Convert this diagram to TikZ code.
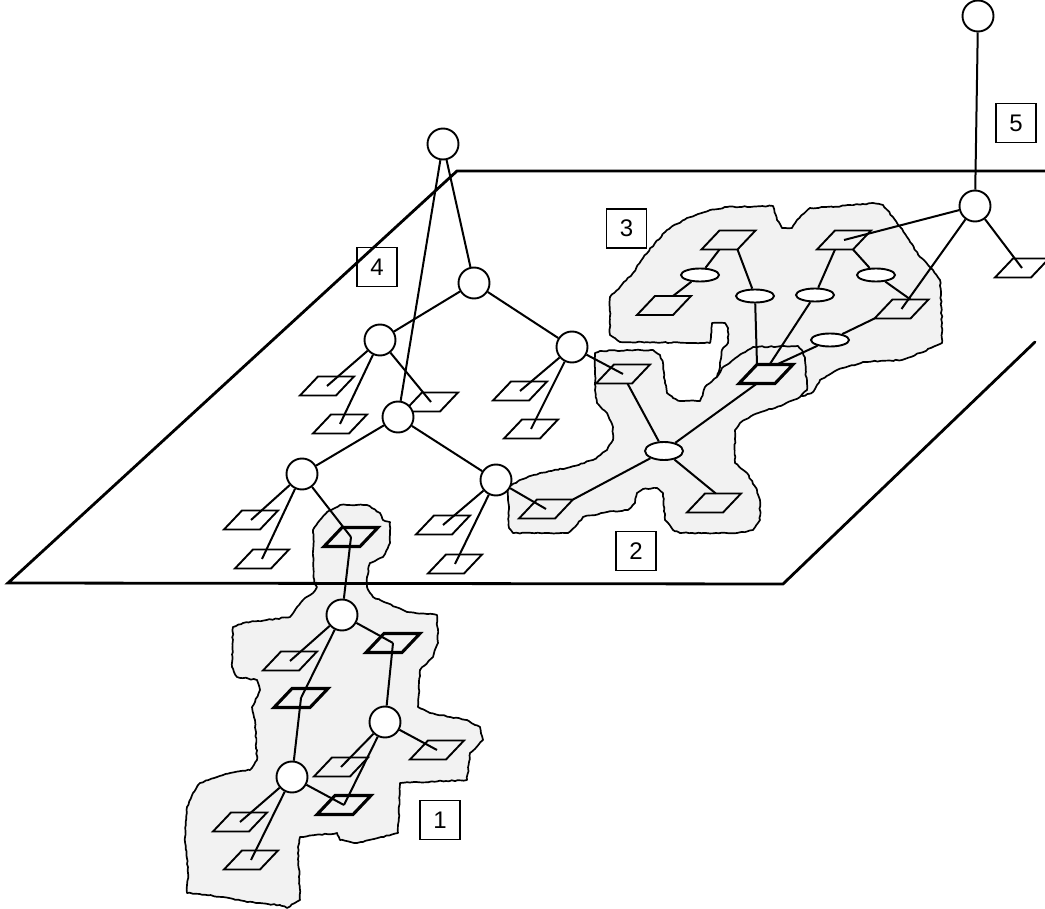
\documentclass[tikz,border=0pt]{standalone}
\usepackage{fontspec}
\setmainfont{Liberation Sans}
\usetikzlibrary{calc,shapes.geometric,decorations.pathmorphing}
\definecolor{blobgray}{HTML}{F2F2F2}
\newcommand\pgram[4][pgline]{%
  \coordinate (#2) at (#3,#4);
  \coordinate (#2-bl) at (#3-27,#4+9.5);
  \coordinate (#2-br) at (#3+9,#4+9.5);
  \coordinate (#2-tr) at (#3+27,#4-9.5);
  \coordinate (#2-tl) at (#3-9,#4-9.5);
  \coordinate (#2-b) at (#3-9,#4+9.5);
  \coordinate (#2-t) at (#3+9,#4-9.5);
  \draw[#1] (#2-bl) -- (#2-br) -- (#2-tr) -- (#2-tl) -- cycle;
}
\tikzset{
  plane/.style={line width=2.8pt, line cap=round},
  blob/.style={fill=blobgray, draw=black, line width=1.7pt, line join=round,
    decorate, decoration={random steps, segment length=3pt, amplitude=0.6pt}},
  pgline/.style={line width=1.9pt, line join=miter},
  pgthick/.style={line width=3.1pt, line join=miter},
  vtx/.style={circle, draw, fill=white, line width=1.9pt, minimum size=31pt, inner sep=0pt},
  oval/.style={ellipse, draw, fill=white, line width=1.9pt, minimum width=38pt, minimum height=13pt, inner sep=0pt},
  ovalbig/.style={oval, minimum height=18pt},
  link/.style={line width=2pt},
  lbl/.style={draw, line width=1.2pt, minimum width=40pt, minimum height=39pt, inner sep=0pt, font=\fontsize{24}{24}\selectfont}
}
\begin{document}
\begin{tikzpicture}[x=1pt,y=-1pt]
\pgfmathsetseed{7}
\useasboundingbox (0,0) rectangle (1045,909);
\clip (0,0) rectangle (1045,909);
% ---------- region 3 blob
\path[blob] (620,342) -- (610,335) -- (610,297) -- (620,287) -- (633,273) -- (643,258) -- (655,243) -- (667,230) -- (687,218) -- (710,210) -- (727,207) -- (773,206) -- (777,220) -- (782,228) -- (792,228) -- (797,220) -- (810,208) -- (833,207) -- (873,203) -- (883,205) -- (893,217) -- (907,237) -- (920,257) -- (933,270) -- (940,280) -- (942,323) -- (942,343) -- (920,353) -- (902,360) -- (863,362) -- (837,370) -- (820,380) -- (813,392) -- (803,396) -- (790,395) -- (765,402) -- (735,408) -- (722,386) -- (717,377) -- (720,367) -- (722,350) -- (728,343) -- (728,328) -- (725,323) -- (712,323) -- (710,343) -- cycle;
% ---------- region 2 blob
\path[blob] (595,353) -- (600,351) -- (653,350) -- (660,355) -- (663,363) -- (665,383) -- (667,393) -- (673,398) -- (680,401) -- (700,401) -- (703,393) -- (705,387) -- (717,377) -- (722,368) -- (733,360) -- (743,353) -- (753,347) -- (798,346) -- (803,352) -- (805,360) -- (807,390) -- (800,397) -- (775,408) -- (767,410) -- (753,415) -- (740,423) -- (735,430) -- (735,463) -- (747,473) -- (757,490) -- (760,500) -- (760,520) -- (753,530) -- (737,533) -- (680,533) -- (673,530) -- (665,520) -- (663,493) -- (657,488) -- (643,489) -- (637,493) -- (635,503) -- (628,510) -- (607,512) -- (583,517) -- (575,527) -- (568,533) -- (513,533) -- (509,528) -- (508,487) -- (520,480) -- (540,473) -- (567,468) -- (593,460) -- (607,450) -- (613,440) -- (613,427) -- (607,413) -- (597,403) -- (595,390) -- cycle;
% ---------- region 1 blob
\path[blob] (314,583) -- (313,530) -- (320,520) -- (327,512) -- (340,505) -- (367,505) -- (380,513) -- (383,520) -- (390,522) -- (390,543) -- (383,557) -- (370,563) -- (367,577) -- (367,587) -- (373,597) -- (380,600) -- (407,612) -- (437,615) -- (438,643) -- (433,657) -- (420,670) -- (418,707) -- (430,713) -- (467,720) -- (480,727) -- (483,740) -- (470,753) -- (467,780) -- (400,783) -- (398,833) -- (357,843) -- (340,840) -- (337,833) -- (300,837) -- (298,847) -- (300,900) -- (287,908) -- (280,905) -- (247,902) -- (223,897) -- (187,893) -- (188,873) -- (185,837) -- (187,807) -- (193,793) -- (200,783) -- (230,773) -- (250,770) -- (257,760) -- (255,720) -- (252,707) -- (260,690) -- (257,680) -- (237,677) -- (232,667) -- (233,627) -- (243,623) -- (290,617) -- (303,600) -- (313,593) -- (317,587) -- cycle;
% ---------- plane
\coordinate (pTL) at (457,171);
\coordinate (pTR) at (1046,171);
\coordinate (pBL) at (8,583);
\coordinate (pBR) at (783,584);
\coordinate (pRE) at (1035,342);
\draw[plane] (pTR) -- (pTL) -- (pBL) -- (pBR) -- (pRE);
% ---------- parallelograms
\pgram{P1}{327}{386}
\pgram{P2}{340}{424}
\pgram{P3}{431}{402}
\pgram{D1}{520}{391}
\pgram{D2}{531}{429}
\pgram{PD3}{623}{374}
\pgram{F1}{251}{520}
\pgram{F2}{262}{559}
\pgram[pgthick]{F3}{351}{537}
\pgram{G1}{443}{525}
\pgram{G2}{455}{564}
\pgram{PG3}{546}{509}
\pgram{X4}{714}{503}
\pgram{R1}{728.5}{240}
\pgram{R2}{844}{240}
\pgram{R3}{664}{305.5}
\pgram{R4}{901.5}{309}
\pgram[pgthick]{R5}{766}{374}
\pgram{R6}{1022}{268}
\pgram{Q1}{290}{661}
\pgram[pgthick]{Q2}{393}{643}
\pgram[pgthick]{Q3}{301}{698}
\pgram{Q4}{437}{750}
\pgram{Q5}{341}{767}
\pgram[pgthick]{Q6}{344}{805}
\pgram{Q7}{240}{822}
\pgram{Q8}{251}{860}
% ---------- circles
\node[vtx] (A) at (443,144) {};
\node[vtx] (B) at (474,283) {};
\node[vtx] (C) at (380,340) {};
\node[vtx] (D) at (572,347) {};
\node[vtx] (E) at (398,417) {};
\node[vtx] (F) at (302,474) {};
\node[vtx] (G) at (496,480) {};
\node[vtx] (H) at (975,206) {};
\node[vtx] (I) at (978,16) {};
\node[vtx] (J) at (342,615) {};
\node[vtx] (K) at (385,722) {};
\node[vtx] (L) at (292,777) {};
% ---------- ellipses
\node[ovalbig] (X) at (664,451) {};
\node[oval] (E1) at (700,275) {};
\node[oval] (E2) at (755,296) {};
\node[oval] (E3) at (815,295) {};
\node[oval] (E4) at (876,275) {};
\node[oval] (E5) at (830,340) {};
% ---------- links: tree 4
\draw[link] (A) -- (E);
\draw[link] (A) -- (B);
\draw[link] (B) -- (C);
\draw[link] (B) -- (D);
\draw[link] (C) -- (P1);
\draw[link] (C) -- (P2);
\draw[link] (C) -- (P3);
\draw[link] (D) -- (D1);
\draw[link] (D) -- (D2);
\draw[link] (D) -- (PD3);
\draw[link] (E) -- (F);
\draw[link] (E) -- (G);
\draw[link] (F) -- (F1);
\draw[link] (F) -- (F2);
\draw[link] (F) -- (F3);
\draw[link] (G) -- (G1);
\draw[link] (G) -- (G2);
\draw[link] (G) -- (PG3);
% ---------- links: region 1
\draw[link] (F3) -- (J);
\draw[link] (J) -- (Q1);
\draw[link] (J) -- (Q2);
\draw[link] (J) -- (Q3);
\draw[link] (Q2) -- (K);
\draw[link] (Q3) -- (L);
\draw[link] (K) -- (Q4);
\draw[link] (K) -- (Q5);
\draw[link] (K) -- (Q6);
\draw[link] (L) -- (Q7);
\draw[link] (L) -- (Q8);
\draw[link] (L) -- (Q6);
% ---------- links: region 2
\draw[link] (X) -- ($(PD3-b)!.75!(PD3-br)$);
\draw[link] (X) -- (PG3-tr);
\draw[link] (X) -- ($(X4-tl)!.3!(X4-tr)$);
\draw[link] (X) -- (R5-b);
% ---------- links: region 3
\draw[link] (R1-b) -- (E1);
\draw[link] (E1) -- (R3-t);
\draw[link] (R1-br) -- (E2);
\draw[link] (E2) -- (R5-tl);
\draw[link] (R2-b) -- (E3);
\draw[link] (E3) -- ($(R5-tl)!.35!(R5-tr)$);
\draw[link] (R2-br) -- (E4);
\draw[link] (E4) -- (R4-t);
\draw[link] (R4-bl) -- (E5);
\draw[link] (E5) -- ($(R5-tl)!.55!(R5-tr)$);
\draw[link] (H) -- (R2);
\draw[link] (H) -- (R4);
\draw[link] (H) -- (R6);
\draw[link] (I) -- (H);
% ---------- labels
\node[lbl] (n1) at (440,820) {1};
\node[lbl] (n2) at (636,551) {2};
\node[lbl] (n3) at (626.5,228.5) {3};
\node[lbl] (n4) at (377,267) {4};
\node[lbl] (n5) at (1016,123) {5};
\end{tikzpicture}
\end{document}
